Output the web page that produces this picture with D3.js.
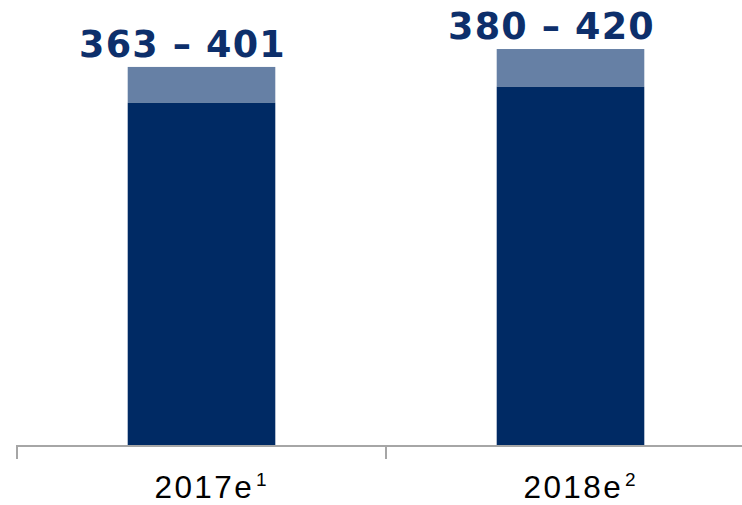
<!DOCTYPE html>
<html>
<head>
<meta charset="utf-8">
<script src="https://cdn.jsdelivr.net/npm/d3@7/dist/d3.min.js"></script>
<style>
  html, body { margin: 0; padding: 0; background: #fff; }
  svg { display: block; }
</style>
</head>
<body>
<svg id="chart" width="742" height="505"></svg>
<script>
// Forecast ranges per year: lower bound and upper bound
const years = ["2017e", "2018e"];
const footnotes = ["1", "2"];
const lowerBounds = [363, 380];
const upperBounds = [401, 420];

const W = 742, H = 505;
const baseY = 445;
const svg = d3.select("#chart");

const x = d3.scaleBand()
  .domain(years)
  .range([17, 17 + 369 * years.length])
  .paddingInner(0)
  .paddingOuter(0);

const y = d3.scaleLinear()
  .domain([0, 472])
  .range([baseY, 0]);

const barW = x.bandwidth() * 0.4;
const barX = d => x(d) + (x.bandwidth() - barW) / 2;

const rows = years.map((yr, i) => ({
  year: yr, note: footnotes[i], low: lowerBounds[i], high: upperBounds[i]
}));

// Upper range segment (light)
svg.append("g").selectAll("rect.range")
  .data(rows).join("rect")
  .attr("class", "range")
  .attr("x", d => barX(d.year))
  .attr("width", barW)
  .attr("y", d => y(d.high))
  .attr("height", d => y(d.low) - y(d.high))
  .attr("fill", "#6680a5");

// Base segment (dark)
svg.append("g").selectAll("rect.base")
  .data(rows).join("rect")
  .attr("class", "base")
  .attr("x", d => barX(d.year))
  .attr("width", barW)
  .attr("y", d => y(d.low))
  .attr("height", d => y(0) - y(d.low))
  .attr("fill", "#002a64");

// Range labels above bars
svg.append("g").selectAll("text.val")
  .data(rows).join("text")
  .attr("class", "val")
  .attr("x", d => x(d.year) + x.bandwidth() / 2 - 19)
  .attr("y", d => y(d.high) - 10)
  .attr("text-anchor", "middle")
  .attr("font-family", "DejaVu Sans, Verdana, sans-serif")
  .attr("font-weight", "bold")
  .attr("font-size", 36.5)
  .attr("letter-spacing", 1.2)
  .attr("fill", "#0d2f6b")
  .text(d => `${d.low} \u2013 ${d.high}`);

// Category axis: baseline with ticks on band boundaries
const axis = svg.append("g").attr("class", "axis");
axis.append("line")
  .attr("x1", x.range()[0]).attr("x2", W)
  .attr("y1", baseY + 1).attr("y2", baseY + 1)
  .attr("stroke", "#a6a6a6").attr("stroke-width", 2);
axis.selectAll("line.tick")
  .data(years).join("line")
  .attr("class", "tick")
  .attr("x1", d => x(d)).attr("x2", d => x(d))
  .attr("y1", baseY).attr("y2", baseY + 14)
  .attr("stroke", "#a6a6a6").attr("stroke-width", 2);

const lbl = axis.selectAll("text.cat")
  .data(rows).join("text")
  .attr("class", "cat")
  .attr("x", d => x(d.year) + x.bandwidth() / 2 - 47)
  .attr("y", 498)
  .attr("text-anchor", "start")
  .attr("font-family", "Liberation Sans, Arial, sans-serif")
  .attr("font-size", 31.5)
  .attr("fill", "#000");
lbl.append("tspan")
  .attr("letter-spacing", 2.4)
  .text(d => d.year);
lbl.append("tspan")
  .attr("dx", 2)
  .attr("dy", -12)
  .attr("font-size", 19)
  .text(d => d.note);
</script>
</body>
</html>
